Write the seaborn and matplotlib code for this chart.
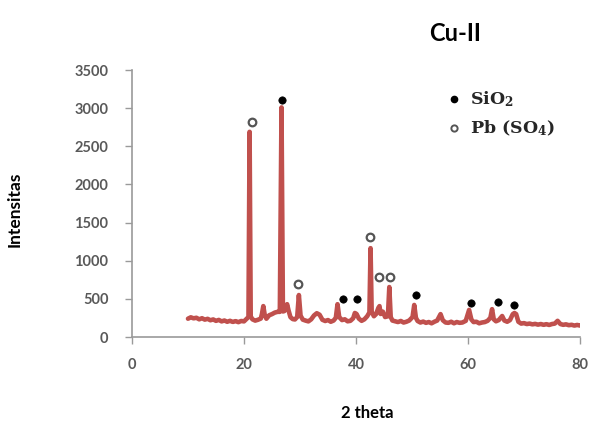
import matplotlib
matplotlib.use("Agg")
import matplotlib.pyplot as plt
from matplotlib.lines import Line2D
import pandas as pd
import seaborn as sns

# Diffraction pattern of sample Cu-II (2-theta in degrees, counts)
two_theta = [
    10.0, 10.5, 11.0, 11.5, 12.0, 12.5, 13.0, 13.5, 14.0, 14.5,
    15.0, 15.5, 16.0, 16.5, 17.0, 17.5, 18.0, 18.5, 19.0, 19.5,
    20.0, 20.5, 20.8, 21.0, 21.2, 21.5, 22.0, 22.5, 23.0, 23.2,
    23.45, 23.7, 24.0, 24.5, 25.0, 25.5, 26.0, 26.4, 26.7, 26.95,
    27.2, 27.5, 27.7, 27.95, 28.3, 28.7, 29.1, 29.5, 29.8, 30.1,
    30.5, 31.0, 31.5, 32.0, 32.5, 33.0, 33.5, 34.0, 34.5, 35.0,
    35.5, 36.0, 36.4, 36.7, 37.0, 37.5, 38.0, 38.5, 39.0, 39.5,
    39.8, 40.1, 40.5, 41.0, 41.5, 42.0, 42.4, 42.6, 42.8, 43.2,
    43.6, 44.0, 44.2, 44.4, 44.8, 45.2, 45.7, 45.95, 46.2, 46.5,
    47.0, 47.5, 48.0, 48.5, 49.0, 49.5, 50.1, 50.4, 50.7, 51.0,
    51.5, 52.0, 52.5, 53.0, 53.5, 54.0, 54.5, 55.1, 55.5, 56.0,
    56.5, 57.0, 57.5, 58.0, 58.5, 59.0, 59.6, 60.2, 60.6, 61.0,
    61.5, 62.0, 62.5, 63.0, 63.5, 64.0, 64.3, 64.6, 65.0, 65.5,
    66.1, 66.5, 67.0, 67.5, 68.0, 68.3, 68.6, 69.0, 69.5, 70.0,
    70.5, 71.0, 71.5, 72.0, 72.5, 73.0, 73.5, 74.0, 74.5, 75.0,
    75.5, 76.0, 76.5, 77.0, 77.5, 78.0, 78.5, 79.0, 79.5, 80.0,
    80.3,
]
intensity = [
    240, 258, 245, 252, 232, 246, 228, 238, 220, 230,
    212, 224, 205, 216, 200, 212, 198, 208, 195, 210,
    205, 240, 262, 2690, 270, 232, 215, 226, 242, 300,
    405, 290, 240, 285, 300, 320, 330, 330, 3010, 335,
    340, 380, 430, 350, 260, 235, 230, 262, 550, 280,
    228, 215, 205, 232, 282, 312, 292, 226, 210, 222,
    200, 216, 252, 430, 262, 222, 232, 206, 212, 246,
    315, 302, 242, 212, 232, 272, 322, 1165, 332, 272,
    302, 382, 405, 302, 332, 262, 272, 655, 262, 216,
    206, 196, 210, 190, 200, 216, 262, 420, 252, 210,
    190, 202, 186, 196, 180, 200, 216, 300, 220, 190,
    186, 200, 180, 196, 186, 190, 212, 355, 230, 196,
    200, 180, 190, 196, 212, 252, 365, 232, 206, 222,
    275, 216, 200, 222, 300, 315, 300, 200, 176, 182,
    170, 176, 166, 172, 162, 170, 160, 168, 158, 170,
    176, 212, 170, 160, 166, 155, 160, 150, 158, 150,
    160,
]

# Phase markers placed just above their reflections
sio2_theta = [26.7, 37.7, 40.2, 50.7, 60.5, 65.4, 68.2]
sio2_level = [3110, 500, 500, 550, 445, 460, 420]
pbso4_theta = [21.4, 29.7, 42.5, 44.1, 46.0]
pbso4_level = [2820, 695, 1310, 790, 790]

x_ticks = [0, 20, 40, 60, 80]
y_ticks = [0, 500, 1000, 1500, 2000, 2500, 3000, 3500]

pattern = pd.DataFrame({"two_theta": two_theta, "intensity": intensity})
sio2 = pd.DataFrame({"two_theta": sio2_theta, "intensity": sio2_level})
pbso4 = pd.DataFrame({"two_theta": pbso4_theta, "intensity": pbso4_level})

sns.set_style("ticks")
plt.rcParams["font.family"] = ["Lato", "DejaVu Sans"]
plt.rcParams["mathtext.fontset"] = "dejavuserif"
plt.rcParams["mathtext.default"] = "bf"

fig = plt.figure(figsize=(5.97, 4.28), dpi=100)
ax = fig.add_axes([0.2211, 0.2126, 0.7504, 0.6238])

sns.lineplot(data=pattern, x="two_theta", y="intensity", ax=ax,
             color="#C0504D", linewidth=3.3, estimator=None, sort=False,
             solid_joinstyle="round")
sns.scatterplot(data=sio2, x="two_theta", y="intensity", ax=ax,
                color="black", s=28, edgecolor="black", linewidth=0.5, zorder=5)
sns.scatterplot(data=pbso4, x="two_theta", y="intensity", ax=ax,
                facecolor="white", edgecolor="#555555", s=30, linewidth=1.6,
                zorder=5)

ax.set_xlim(0, 80)
ax.set_ylim(0, 3500)
ax.set_xticks(x_ticks)
ax.set_yticks(y_ticks)
ax.set_xticklabels([str(v) for v in x_ticks])
ax.set_yticklabels([str(v) for v in y_ticks])

sns.despine(ax=ax)
for side in ("left", "bottom"):
    ax.spines[side].set_color("#9a9a9a")
    ax.spines[side].set_linewidth(1.2)
ax.tick_params(axis="both", colors="#9a9a9a", length=5, width=1.0,
               labelcolor="#595959", labelsize=10.5)
ax.tick_params(axis="x", pad=10)
ax.tick_params(axis="y", pad=12)
for lbl in ax.get_xticklabels() + ax.get_yticklabels():
    lbl.set_fontweight("bold")

ax.set_xlabel("2 theta", fontsize=12, fontweight="bold", color="black")
ax.set_ylabel("Intensitas", fontsize=12.5, fontweight="bold", color="black")
ax.xaxis.set_label_coords(0.525, -0.255)
ax.yaxis.set_label_coords(-0.245, 0.48)

fig.text(0.762, 0.922, "Cu-II", fontsize=17, fontweight="bold",
         ha="center", va="center", color="black")

handles = [
    Line2D([], [], linestyle="none", marker="o", markersize=4.5,
           color="black"),
    Line2D([], [], linestyle="none", marker="o", markersize=4.5,
           markerfacecolor="white", markeredgecolor="#555555",
           markeredgewidth=1.4),
]
leg = ax.legend(handles, ["SiO$_2$", "Pb (SO$_4$)"], frameon=False,
                loc="upper left", bbox_to_anchor=(0.672, 0.985),
                handlelength=0.6, handletextpad=0.6, labelspacing=0.55,
                prop={"family": "DejaVu Serif", "weight": "bold", "size": 12.5})

fig.savefig("out.png", dpi=100)
